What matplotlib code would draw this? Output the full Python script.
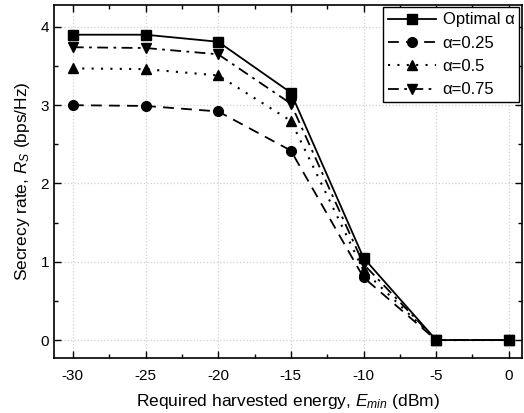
import numpy as np
import matplotlib.pyplot as plt
from matplotlib.ticker import MultipleLocator

plt.rcParams['font.family'] = ['Liberation Sans', 'DejaVu Sans']
plt.rcParams['mathtext.fontset'] = 'custom'
plt.rcParams['mathtext.rm'] = 'Liberation Sans'
plt.rcParams['mathtext.it'] = 'Liberation Sans:italic'
plt.rcParams['axes.unicode_minus'] = False

e_min = [-30, -25, -20, -15, -10, -5, 0]
rs_opt = [3.90, 3.90, 3.81, 3.16, 1.05, 0.0, 0.0]
rs_025 = [3.00, 2.99, 2.92, 2.42, 0.80, 0.0, 0.0]
rs_05 = [3.47, 3.46, 3.38, 2.80, 0.89, 0.0, 0.0]
rs_075 = [3.74, 3.73, 3.65, 3.02, 0.97, 0.0, 0.0]

fig = plt.figure(figsize=(5.24, 4.13), dpi=100)
ax = fig.add_axes([0.103, 0.133, 0.893, 0.855])

ax.plot(e_min, rs_opt, color='black', ls='-', lw=1.3, marker='s', ms=6.5, label='Optimal α')
ax.plot(e_min, rs_025, color='black', ls=(0, (6, 4)), lw=1.3, marker='o', ms=7, label='α=0.25')
ax.plot(e_min, rs_05, color='black', ls=(0, (1, 3.5)), lw=1.5, marker='^', ms=7.5, label='α=0.5')
ax.plot(e_min, rs_075, color='black', ls=(0, (6, 3, 1.5, 3)), lw=1.3, marker='v', ms=7.5, label='α=0.75')

ax.set_xlim(-31.3, 0.9)
ax.set_ylim(-0.23, 4.28)
ax.xaxis.set_major_locator(MultipleLocator(5))
ax.xaxis.set_minor_locator(MultipleLocator(2.5))
ax.yaxis.set_major_locator(MultipleLocator(1))
ax.yaxis.set_minor_locator(MultipleLocator(0.5))
ax.tick_params(which='both', direction='in', top=True, right=True, labelsize=11, width=1)
ax.tick_params(which='major', length=5)
ax.tick_params(which='minor', length=3)
ax.tick_params(axis='x', pad=8)
ax.grid(True, which='major', ls=':', color='#d0d0d0', lw=0.9)
for s in ax.spines.values():
    s.set_linewidth(1.2)

ax.set_xlabel('Required harvested energy, $E_{min}$ (dBm)', fontsize=12.5, labelpad=6)
ax.set_ylabel('Secrecy rate, $R_S$ (bps/Hz)', fontsize=12.5, labelpad=6)

leg = ax.legend(loc='upper right', fontsize=12, handlelength=2.9, fancybox=False,
                edgecolor='black', framealpha=1, borderpad=0.3, labelspacing=0.5,
                handletextpad=0.4, borderaxespad=0.15)
leg.get_frame().set_linewidth(1.0)

fig.savefig('out.png', dpi=100)
